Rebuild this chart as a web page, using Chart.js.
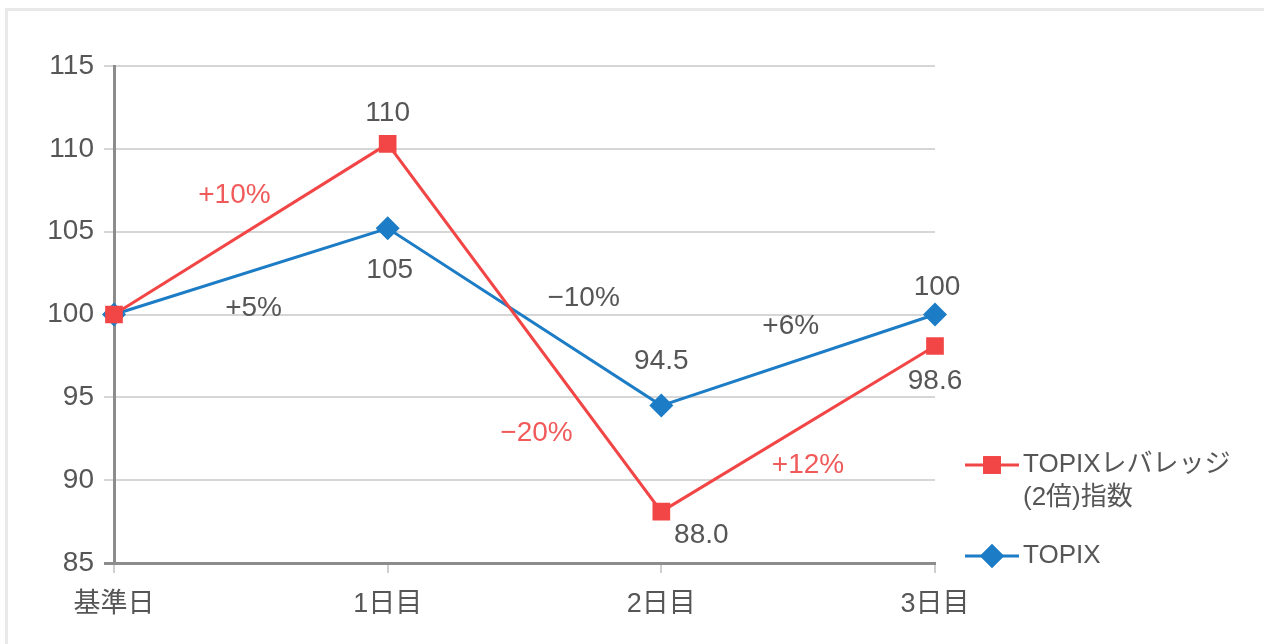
<!DOCTYPE html>
<html lang="ja">
<head>
<meta charset="utf-8">
<title>TOPIX レバレッジ指数</title>
<script src="https://cdn.jsdelivr.net/npm/chart.js@4.4.1/dist/chart.umd.min.js"></script>
<style>
  html, body { margin: 0; padding: 0; background: #fff; overflow: hidden; }
  #frame {
    position: absolute; left: 5px; top: 8px; width: 1280px; height: 660px;
    border: 3px solid #e9e9e9; box-sizing: border-box;
  }
  #wrap { position: absolute; left: 0; top: 0; width: 1264px; height: 644px; }
</style>
</head>
<body>
<div id="frame"></div>
<div id="wrap"><canvas id="chart"></canvas></div>
<script>
// Chart data
const days = ['基準日', '1日目', '2日目', '3日目'];
const leveragedValues = [100, 110.3, 88.1, 98.1];
const topixValues = [100, 105.2, 94.5, 100];
const leveragedLabels = ['', '110', '88.0', '98.6'];
const topixLabels = ['', '105', '94.5', '100'];
const yTicks = [85, 90, 95, 100, 105, 110, 115];

// Daily change labels (red = leveraged, gray = TOPIX)
const changeTexts = ['+10%', '+5%', '\u221210%', '\u221220%', '+6%', '+12%'];
const changeSeries = ['lev', 'topix', 'topix', 'lev', 'topix', 'lev'];

const seriesNames = ['TOPIXレバレッジ\n(2倍)指数', 'TOPIX'];

const RED = '#f24646';
const BLUE = '#1c7cc5';
const GRAY_TEXT = '#565656';
const RED_TEXT = '#f05a5a';
const FONT = "'Liberation Sans', 'Noto Sans CJK JP', sans-serif";

// where each change label sits: [category position, value]
const changePlacement = [
  [0.44, 107.2], [0.51, 100.4], [1.716, 101.0],
  [1.544, 92.8], [2.473, 99.3], [2.536, 90.9]
];
// offsets of the point value labels, pixels from the point
const levLabelOffset = [null, [0, -31], [40, 24], [0, 35]];
const topixLabelOffset = [null, [2, 42], [0, -44], [2, -27]];

const annotationPlugin = {
  id: 'annotations',
  afterDatasetsDraw(chart) {
    const ctx = chart.ctx;
    const x = chart.scales.x;
    const y = chart.scales.y;
    ctx.save();
    ctx.font = '28px ' + FONT;
    ctx.textAlign = 'center';
    ctx.textBaseline = 'middle';

    // value labels next to points
    ctx.fillStyle = GRAY_TEXT;
    leveragedLabels.forEach((t, i) => {
      if (!t) return;
      const o = levLabelOffset[i];
      ctx.fillText(t, x.getPixelForValue(i) + o[0], y.getPixelForValue(leveragedValues[i]) + o[1]);
    });
    topixLabels.forEach((t, i) => {
      if (!t) return;
      const o = topixLabelOffset[i];
      ctx.fillText(t, x.getPixelForValue(i) + o[0], y.getPixelForValue(topixValues[i]) + o[1]);
    });

    // change labels
    changeTexts.forEach((t, i) => {
      const p = changePlacement[i];
      ctx.fillStyle = changeSeries[i] === 'lev' ? RED_TEXT : GRAY_TEXT;
      ctx.fillText(t, x.getPixelForValue(p[0]), y.getPixelForValue(p[1]));
    });

    // legend on the right
    const lx = 965, lw = 54;
    const entries = [
      { color: RED, style: 'rect', r: 12.5, cy: 465, lines: seriesNames[0].split('\n') },
      { color: BLUE, style: 'rectRot', r: 12, cy: 556, lines: seriesNames[1].split('\n') }
    ];
    entries.forEach(e => {
      ctx.strokeStyle = e.color;
      ctx.lineWidth = 3;
      ctx.beginPath();
      ctx.moveTo(lx, e.cy);
      ctx.lineTo(lx + lw, e.cy);
      ctx.stroke();
      ctx.fillStyle = e.color;
      Chart.helpers.drawPoint(ctx, { pointStyle: e.style, radius: e.r, borderWidth: 0 }, lx + lw / 2, e.cy);
      ctx.fill();
      ctx.fillStyle = GRAY_TEXT;
      ctx.textAlign = 'left';
      ctx.font = '26px ' + FONT;
      e.lines.forEach((ln, k) => ctx.fillText(ln, 1023, e.cy + k * 33));
    });
    ctx.restore();
  }
};

new Chart(document.getElementById('chart'), {
  type: 'line',
  data: {
    labels: days,
    datasets: [
      {
        label: 'TOPIXレバレッジ(2倍)指数',
        data: leveragedValues,
        borderColor: RED,
        backgroundColor: RED,
        borderWidth: 3,
        pointStyle: 'rect',
        pointRadius: 12.5,
        pointBorderWidth: 0,
        tension: 0
      },
      {
        label: 'TOPIX',
        data: topixValues,
        borderColor: BLUE,
        backgroundColor: BLUE,
        borderWidth: 3,
        pointStyle: 'rectRot',
        pointRadius: 12,
        pointBorderWidth: 0,
        tension: 0
      }
    ]
  },
  options: {
    responsive: true,
    maintainAspectRatio: false,
    animation: false,
    layout: { padding: { top: 66, right: 329, bottom: 0, left: 0 } },
    scales: {
      x: {
        offset: false,
        grid: { drawOnChartArea: false, drawTicks: true, tickLength: 10, color: '#cfcfcf', lineWidth: 2 },
        border: { color: '#8c8c8c', width: 3 },
        ticks: { color: GRAY_TEXT, font: { family: FONT, size: 27 }, padding: 15, maxRotation: 0 },
        afterFit: s => { s.height = 81; }
      },
      y: {
        min: 85,
        max: 115,
        afterBuildTicks: s => { s.ticks = yTicks.map(v => ({ value: v })); },
        grid: {
          color: c => (c.tick && c.tick.value === 85 ? '#8c8c8c' : '#d6d6d6'),
          lineWidth: c => (c.tick && c.tick.value === 85 ? 3 : 2),
          tickLength: 10
        },
        border: { color: '#8c8c8c', width: 3 },
        ticks: { color: GRAY_TEXT, font: { family: FONT, size: 28 }, padding: 10 },
        afterFit: s => { s.width = 114; }
      }
    },
    plugins: {
      legend: { display: false },
      tooltip: { enabled: false }
    }
  },
  plugins: [annotationPlugin]
});
</script>
</body>
</html>
